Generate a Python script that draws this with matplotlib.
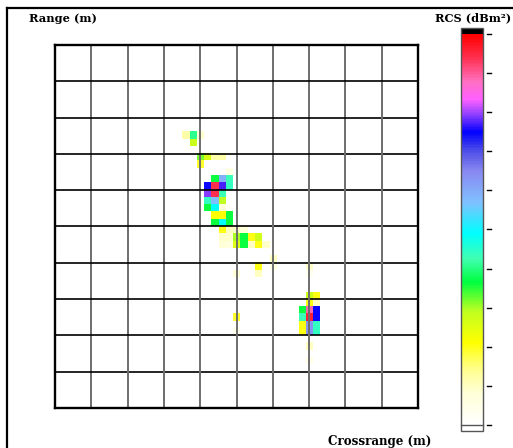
import numpy as np
import matplotlib
matplotlib.use('Agg')
import matplotlib.pyplot as plt
from matplotlib.colors import LinearSegmentedColormap
from matplotlib.lines import Line2D
import matplotlib.transforms as mtransforms

# ---------------- data ----------------
# ISAR image pixels: row index (from top), column index (from left), RCS level (colour-scale units 0..10)
pix_rows = [12, 12, 12, 13,
            15, 15, 15, 15, 16, 17,
            18, 18, 18,
            19, 19, 19, 19,
            20, 20, 20,
            21, 21, 21,
            22, 22, 22,
            23, 23, 23,
            24, 24, 24,
            25, 25, 25, 25,
            26, 26, 26, 26, 26, 26,
            27, 27, 27, 27, 27, 27, 27,
            29, 30, 30, 30, 31, 31, 31,
            34, 34, 35, 35,
            36, 36, 36,
            37, 37, 37, 37,
            38, 38, 38,
            39, 39, 39, 39,
            41, 43]
pix_cols = [18, 19, 20, 19,
            20, 21, 22, 23, 20, 24,
            22, 23, 24,
            21, 22, 23, 24,
            21, 22, 23,
            21, 22, 23,
            21, 22, 23,
            22, 23, 24,
            22, 23, 24,
            23, 24, 25, 26,
            23, 24, 25, 26, 27, 28,
            23, 24, 25, 26, 27, 28, 29,
            30, 28, 30, 35, 25, 28, 35,
            35, 36, 35, 36,
            34, 35, 36,
            25, 34, 35, 36,
            34, 35, 36,
            25, 34, 35, 36,
            35, 35]
pix_vals = [1.2, 4.1, 0.9, 2.8,
            3.2, 2.6, 1.2, 1.2, 1.9, 0.6,
            3.6, 5.9, 4.3,
            7.5, 9.4, 7.7, 4.4,
            7.9, 9.4, 4.3,
            4.4, 5.7, 2.9,
            3.6, 4.9, 0.8,
            2.1, 2.1, 3.6,
            3.6, 4.9, 3.6,
            2.0, 1.0, 0.9, 0.8,
            0.9, 0.9, 3.0, 3.6, 2.0, 2.7,
            0.8, 0.7, 2.5, 3.6, 1.0, 2.0, 0.9,
            1.0, 2.0, 0.6, 0.9, 0.8, 1.0, 0.3,
            2.8, 2.0, 2.0, 1.0,
            3.6, 8.9, 7.5,
            1.9, 4.3, 9.6, 7.5,
            2.0, 6.3, 4.4,
            0.4, 2.0, 6.3, 4.4,
            1.0, 0.4]
n_pix = 50
grid_positions = list(range(0, 11))
cbar_ticks = list(range(0, 11))

cmap_pos = [0.00, 0.08, 0.14, 0.21, 0.29, 0.365, 0.425, 0.49, 0.57, 0.65,
            0.70, 0.75, 0.795, 0.835, 0.88, 0.94, 1.00]
cmap_colors = ['#ffffff', '#ffffd8', '#ffff90', '#ffff00', '#c0ff20', '#00ff40',
               '#40ffb0', '#00ffff', '#80c0ff', '#8888f0', '#5050e8', '#0000ff',
               '#9040ff', '#ff60ff', '#ff70c0', '#ff3050', '#ff0000']

# ---------------- figure ----------------
plt.rcParams['font.family'] = ['DejaVu Serif']
fig = plt.figure(figsize=(5.13, 4.48), dpi=100)

cmap = LinearSegmentedColormap.from_list('rcs', list(zip(cmap_pos, cmap_colors)))
cmap.set_over('black')
cmap.set_under('white')
cmap.set_bad((1, 1, 1, 0))

img = np.full((n_pix, n_pix), np.nan)
img[np.array(pix_rows), np.array(pix_cols)] = pix_vals

W, H = 513, 448
ax = fig.add_axes([55 / W, 1 - 408 / H, 363 / W, 363 / H])
step = 10 / n_pix
im = ax.imshow(img, cmap=cmap, vmin=0, vmax=10, origin='upper',
               extent=[-step / 2, 10 - step / 2, 0, 10],
               interpolation='nearest', aspect='auto', zorder=1)
ax.set_xlim(0, 10)
ax.set_ylim(0, 10)
for g in grid_positions[1:-1]:
    ax.axvline(g, color='#6e6e6e', lw=1.4, zorder=2)
    ax.axhline(g, color='black', lw=1.2, zorder=2)
ax.set_xticks([])
ax.set_yticks([])
for s in ax.spines.values():
    s.set_linewidth(1.7)
    s.set_color('black')
    s.set_zorder(3)

# colour bar
cax = fig.add_axes([461 / W, 1 - 431 / H, 21.7 / W, 403 / H])
cb = fig.colorbar(im, cax=cax, extend='both', extendrect=True, extendfrac=0.015)
cb.outline.set_edgecolor('#555555')
cb.outline.set_linewidth(1.0)
cb.set_ticks(cbar_ticks)
cb.ax.tick_params(length=0, labelright=False)
cb.ax.axhline(0, color='#555555', lw=1.0, clip_on=False)
trans = mtransforms.blended_transform_factory(cb.ax.transAxes, cb.ax.transData)
for t in cbar_ticks:
    cb.ax.add_line(Line2D([1.2, 1.36], [t, t], transform=trans, color='black',
                          lw=1.0, clip_on=False))

# outer frame
fig.add_artist(Line2D([6.5 / W, 1.0], [1 - 8 / H, 1 - 8 / H], color='black', lw=1.6))
fig.add_artist(Line2D([6.5 / W, 6.5 / W], [0.0, 1 - 8 / H], color='black', lw=1.6))

# labels
fig.text(29 / W, 1 - 18 / H, 'Range (m)', fontsize=8.2, fontweight='bold',
         ha='left', va='center')
fig.text(511 / W, 1 - 18 / H, 'RCS (dBm²)', fontsize=8.2, fontweight='bold',
         ha='right', va='center')
fig.text(328 / W, 1 - 441 / H, 'Crossrange (m)', fontsize=8.6, fontweight='bold',
         ha='left', va='center')

fig.savefig('out.png', dpi=100)
